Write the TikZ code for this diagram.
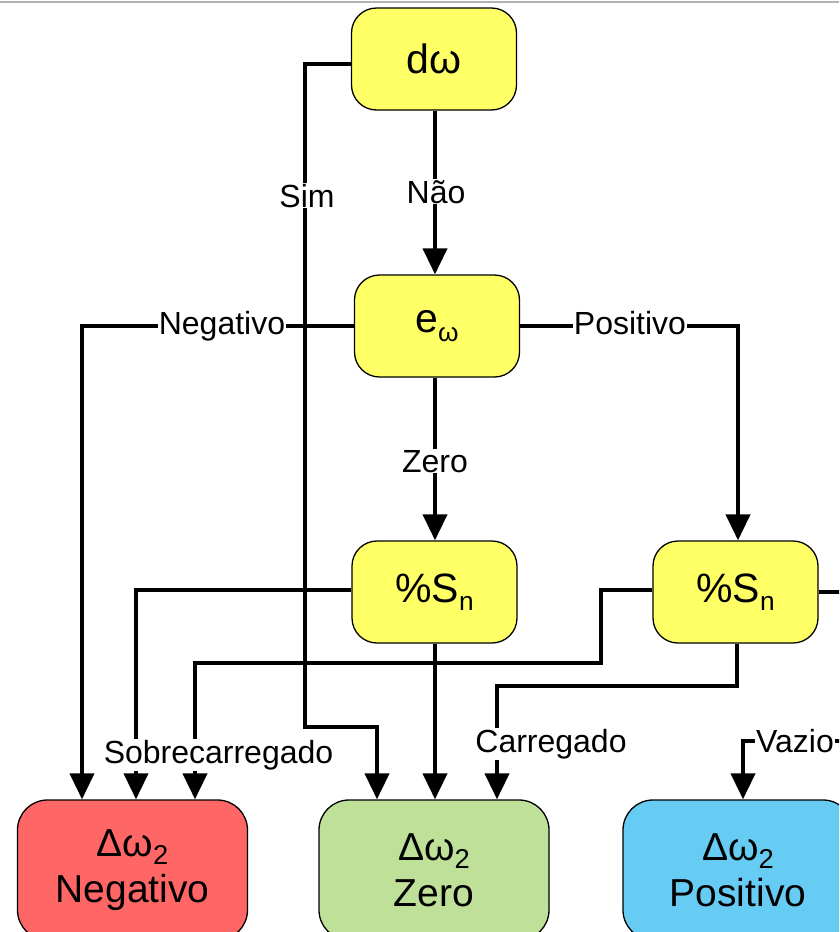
\documentclass[tikz,border=0pt]{standalone}
\usepackage{fontspec}
\setmainfont{Liberation Sans}
\usetikzlibrary{arrows.meta}
\definecolor{boxyellow}{HTML}{FFFF66}
\definecolor{boxred}{HTML}{FF6666}
\definecolor{boxgreen}{HTML}{BFE098}
\definecolor{boxblue}{HTML}{66CCF4}
\newcommand{\mysub}[2][0.64]{\raisebox{-0.2em}{\scalebox{#1}{#2}}}
\tikzset{
  ybox/.style={draw, line width=1.3pt, fill=boxyellow, rounded corners=25pt,
    minimum width=165pt, minimum height=102pt, inner sep=0pt,
    font=\fontsize{41}{48}\selectfont},
  rbox/.style={draw, line width=1.3pt, rounded corners=30pt,
    minimum width=230pt, minimum height=140pt, inner sep=0pt, align=center,
    font=\fontsize{39}{46}\selectfont},
  conn/.style={line width=4pt, -{Triangle[width=24pt,length=26pt]}},
  elabel/.style={fill=white, inner sep=1pt, anchor=base, font=\fontsize{32}{38}\selectfont},
}
\begin{document}
\begin{tikzpicture}[x=1pt,y=-1pt]
\clip (0,0) rectangle (839,932);
\fill[white] (0,0) rectangle (839,932);
\draw[gray!60, line width=1.5pt] (0,2) -- (839,2);
% boxes
\node[ybox] (dw) at (434,59) {dω};
\node[ybox] (ew) at (437,326) {e\mysub{ω}};
\node[ybox] (smid) at (434.5,592) {\%S\mysub{n}};
\node[ybox] (sright) at (735.5,592) {\%S\mysub{n}};
\node[rbox, fill=boxred] (neg) at (132.5,870) {Δω\mysub[0.7]{2}\\Negativo};
\node[rbox, fill=boxgreen] (zer) at (434,870) {Δω\mysub[0.7]{2}\\Zero};
\node[rbox, fill=boxblue] (pos) at (738,870) {Δω\mysub[0.7]{2}\\Positivo};
% connectors
\draw[conn] (dw.west |- 0,64) -| (305,727) -| (zer.north -| 377,0);
\draw[conn] (dw.south -| 435,0) -- (ew.north -| 435,0);
\draw[conn] (ew.west) -| (neg.north -| 82,0);
\draw[conn] (ew.east) -| (sright.north -| 738,0);
\draw[conn] (ew.south -| 435,0) -- (smid.north -| 435,0);
\draw[conn] (smid.west |- 0,590) -| (neg.north -| 136,0);
\draw[conn] (smid.south -| 435,0) -- (zer.north -| 435,0);
\draw[conn] (sright.west |- 0,590) -| (601,663) -| (neg.north -| 195,0);
\draw[conn] (sright.south -| 737,0) |- (497,686) -- (zer.north -| 497,0);
\draw[conn] (sright.east |- 0,592) -| (870,741) -| (pos.north -| 743,0);
% labels
\node[elabel] (lsim) at (307,207) {Sim};
\node[elabel] (lnao) at (436,203) {Não};
\node[elabel] (lneg) at (222,334) {Negativo};
\node[elabel] (lpos) at (630,334) {Positivo};
\node[elabel] (lzero) at (435,472) {Zero};
\node[elabel] (lsob) at (218.5,763) {Sobrecarregado};
\node[elabel] (lcar) at (551,752) {Carregado};
\node[elabel] (lvaz) at (795,752) {Vazio};
\end{tikzpicture}
\end{document}
